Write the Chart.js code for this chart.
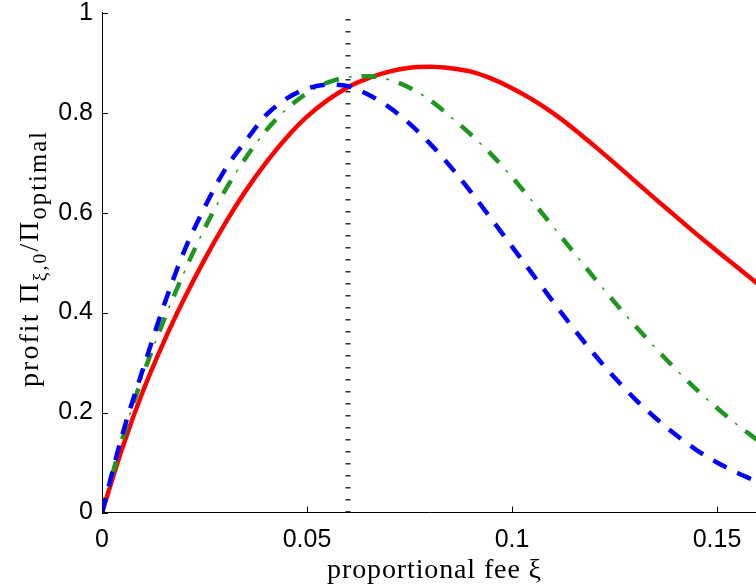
<!DOCTYPE html>
<html>
<head>
<meta charset="utf-8">
<script src="https://cdn.jsdelivr.net/npm/chart.js@4.4.1/dist/chart.umd.min.js"></script>
<style>
  html, body { margin: 0; padding: 0; background: #ffffff; }
  #wrap { width: 756px; height: 585px; }
</style>
</head>
<body>
<div id="wrap"><canvas id="c" width="756" height="585"></canvas></div>
<script>
// ---- data ----
const feeXi = [0, 0.005, 0.01, 0.015, 0.02, 0.025, 0.03, 0.035, 0.04, 0.045, 0.05, 0.055, 0.06, 0.065, 0.07, 0.075, 0.08, 0.085, 0.09, 0.095, 0.1, 0.105, 0.11, 0.115, 0.12, 0.125, 0.13, 0.135, 0.14, 0.145, 0.15, 0.155, 0.16];
const redProfit = [0, 0.13, 0.243, 0.34, 0.427, 0.506, 0.578, 0.643, 0.7, 0.75, 0.792, 0.825, 0.851, 0.869, 0.882, 0.89, 0.892, 0.889, 0.882, 0.868, 0.849, 0.826, 0.799, 0.768, 0.734, 0.699, 0.663, 0.627, 0.592, 0.557, 0.523, 0.49, 0.457];
const blueProfit = [0, 0.157, 0.287, 0.412, 0.522, 0.61, 0.686, 0.743, 0.795, 0.828, 0.848, 0.856, 0.853, 0.836, 0.811, 0.778, 0.738, 0.692, 0.641, 0.587, 0.532, 0.477, 0.422, 0.368, 0.317, 0.27, 0.227, 0.189, 0.155, 0.125, 0.1, 0.079, 0.061];
const greenProfit = [0, 0.148, 0.275, 0.383, 0.48, 0.568, 0.644, 0.709, 0.764, 0.807, 0.839, 0.86, 0.871, 0.873, 0.866, 0.85, 0.825, 0.792, 0.756, 0.716, 0.671, 0.622, 0.572, 0.521, 0.47, 0.421, 0.374, 0.329, 0.286, 0.246, 0.209, 0.175, 0.144];
const markerXi = 0.06;
const xTickValues = [0, 0.05, 0.1, 0.15];
const yTickValues = [0, 0.2, 0.4, 0.6, 0.8, 1];
const xLabel = 'proportional fee ξ';

const pts = (vals) => feeXi.map((x, i) => ({ x: x, y: vals[i] }));

const tickFont = { family: '"Liberation Sans", Arial, sans-serif', size: 25, lineHeight: 1 };
const serif = '"Liberation Serif", "Times New Roman", serif';

const inwardTicks = {
  id: 'inwardTicks',
  afterDatasetsDraw(chart) {
    const ctx = chart.ctx;
    const xs = chart.scales.x, ys = chart.scales.y;
    const a = chart.chartArea;
    ctx.save();
    ctx.strokeStyle = '#000';
    ctx.lineWidth = 1;
    xTickValues.forEach(v => {
      const px = Math.round(xs.getPixelForValue(v)) + 0.5;
      ctx.beginPath(); ctx.moveTo(px, a.bottom); ctx.lineTo(px, a.bottom - 6); ctx.stroke();
    });
    yTickValues.forEach(v => {
      const py = Math.round(ys.getPixelForValue(v)) + 0.5;
      ctx.beginPath(); ctx.moveTo(a.left, py); ctx.lineTo(a.left + 6, py); ctx.stroke();
    });
    ctx.restore();
  }
};

// draws a run of text pieces, spreading letters slightly so the run covers the reference span
function drawRun(ctx, parts, base, span) {
  let chars = 0, w0 = 0;
  const hasLS = ('letterSpacing' in ctx);
  parts.forEach(p => {
    ctx.font = (base * p.k).toFixed(1) + 'px ' + serif;
    if (hasLS) ctx.letterSpacing = '0px';
    w0 += ctx.measureText(p.t).width;
    chars += [...p.t].length;
  });
  let size = base, ls = 0;
  if (w0 > span || !hasLS) size = base * span / w0;
  else ls = (span - w0) / chars;
  let total = 0;
  parts.forEach(p => {
    ctx.font = (size * p.k).toFixed(1) + 'px ' + serif;
    if (hasLS) ctx.letterSpacing = ls.toFixed(2) + 'px';
    p.w = ctx.measureText(p.t).width;
    total += p.w;
  });
  let x = -total / 2;
  parts.forEach(p => {
    ctx.font = (size * p.k).toFixed(1) + 'px ' + serif;
    if (hasLS) ctx.letterSpacing = ls.toFixed(2) + 'px';
    ctx.fillText(p.t, x, p.dy * size);
    x += p.w;
  });
}

const axisTitles = {
  id: 'axisTitles',
  afterDraw(chart) {
    const ctx = chart.ctx;
    ctx.save();
    ctx.fillStyle = '#000';
    ctx.textAlign = 'left';
    ctx.textBaseline = 'alphabetic';
    ctx.save();
    ctx.translate(434.5, 578);
    drawRun(ctx, [{ t: xLabel, k: 1, dy: 0 }], 28, 215);
    ctx.restore();
    ctx.save();
    ctx.translate(38, 258.5);
    ctx.rotate(-Math.PI / 2);
    drawRun(ctx, [
      { t: 'profit Π', k: 1, dy: 0 },
      { t: 'ξ,0', k: 0.7, dy: 0.28 },
      { t: '/Π', k: 1, dy: 0 },
      { t: 'optimal', k: 0.88, dy: 0.3 }
    ], 28, 257);
    ctx.restore();
    ctx.restore();
  }
};

new Chart(document.getElementById('c'), {
  type: 'line',
  data: {
    datasets: [
      { label: 'marker', data: [{ x: markerXi, y: 0 }, { x: markerXi, y: 1 }], borderColor: '#2a2a2a', borderWidth: 5, borderDash: [1.4, 10.6], pointRadius: 0, order: 0 },
      { label: 'blue', data: pts(blueProfit), borderColor: '#0000ff', borderWidth: 4.5, borderDash: [15, 12], pointRadius: 0, cubicInterpolationMode: 'monotone', order: 1 },
      { label: 'green-dot', data: pts(greenProfit), borderColor: '#1f961f', borderWidth: 1.5, borderDash: [3, 35], borderDashOffset: 13, pointRadius: 0, cubicInterpolationMode: 'monotone', order: 2 },
      { label: 'green', data: pts(greenProfit), borderColor: '#1f961f', borderWidth: 4.5, borderDash: [15, 23], pointRadius: 0, cubicInterpolationMode: 'monotone', order: 3 },
      { label: 'red', data: pts(redProfit), borderColor: '#ff0000', borderWidth: 4.5, pointRadius: 0, cubicInterpolationMode: 'monotone', order: 4 }
    ]
  },
  options: {
    responsive: false,
    animation: false,
    devicePixelRatio: 1,
    layout: { padding: { top: 12.7, left: 0, right: 0, bottom: 0 } },
    plugins: { legend: { display: false }, tooltip: { enabled: false } },
    scales: {
      x: {
        type: 'linear', min: 0, max: 0.1595,
        afterFit: (s) => { s.height = 72.5; s.paddingLeft = 0; s.paddingRight = 0; },
        afterBuildTicks: (s) => { s.ticks = xTickValues.map(v => ({ value: v })); },
        grid: { display: true, drawOnChartArea: false, drawTicks: false },
        border: { display: true, color: '#000', width: 1 },
        ticks: { color: '#000', font: tickFont, padding: 15, maxRotation: 0, autoSkip: false, callback: (v) => String(v) }
      },
      y: {
        type: 'linear', min: 0, max: 1,
        afterFit: (s) => { s.width = 102; s.paddingTop = 0; s.paddingBottom = 0; },
        afterBuildTicks: (s) => { s.ticks = yTickValues.map(v => ({ value: v })); },
        grid: { display: true, drawOnChartArea: false, drawTicks: false },
        border: { display: true, color: '#000', width: 1 },
        ticks: { color: '#000', font: tickFont, padding: 9, callback: (v) => String(v) }
      }
    }
  },
  plugins: [inwardTicks, axisTitles]
});
</script>
</body>
</html>
